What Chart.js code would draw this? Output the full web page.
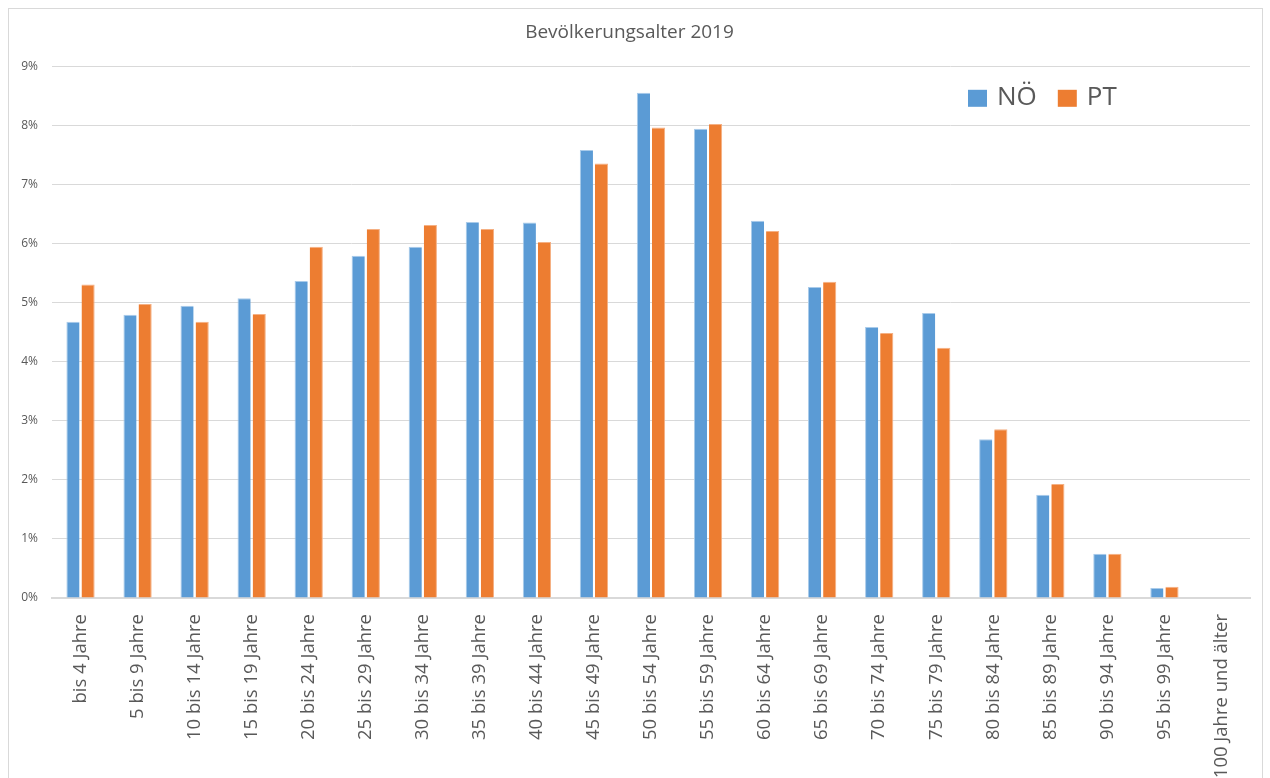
<!DOCTYPE html>
<html>
<head>
<meta charset="utf-8">
<script src="https://cdn.jsdelivr.net/npm/chart.js@4/dist/chart.umd.min.js"></script>
<style>
    body { margin: 0; background: #fff; overflow: hidden; }
    #frame {
        position: absolute; left: 8px; top: 8px;
        width: 1253px; height: 790px;
        border: 1px solid #d9d9d9;
    }
    #frame canvas { display: block; }
</style>
</head>
<body>
<div id="frame"><canvas id="myChart" width="1253" height="769"></canvas></div>
<script>
"use strict"

const ageGroups = [
    "bis 4 Jahre", "5 bis 9 Jahre", "10 bis 14 Jahre", "15 bis 19 Jahre", "20 bis 24 Jahre",
    "25 bis 29 Jahre", "30 bis 34 Jahre", "35 bis 39 Jahre", "40 bis 44 Jahre", "45 bis 49 Jahre",
    "50 bis 54 Jahre", "55 bis 59 Jahre", "60 bis 64 Jahre", "65 bis 69 Jahre", "70 bis 74 Jahre",
    "75 bis 79 Jahre", "80 bis 84 Jahre", "85 bis 89 Jahre", "90 bis 94 Jahre", "95 bis 99 Jahre",
    "100 Jahre und älter"
];
const noeValues = [4.68, 4.80, 4.95, 5.08, 5.37, 5.80, 5.95, 6.37, 6.36, 7.59, 8.56, 7.95, 6.39, 5.27, 4.59, 4.83, 2.69, 1.75, 0.75, 0.17, 0.01];
const ptValues = [5.31, 4.98, 4.68, 4.81, 5.95, 6.25, 6.32, 6.25, 6.03, 7.36, 7.97, 8.03, 6.22, 5.36, 4.49, 4.24, 2.86, 1.93, 0.75, 0.19, 0.01];
const yTicks = [0, 1, 2, 3, 4, 5, 6, 7, 8, 9];

const textColor = "#595959";
const gridColor = "#d9d9d9";

// legend drawn inside the plot, top right (like the Excel original)
const innerLegend = {
    id: "innerLegend",
    afterDraw(chart) {
        const c = chart.ctx;
        const area = chart.chartArea;
        let x = area.right - 282;
        const y = area.top + 23;
        c.save();
        c.font = "26px 'Open Sans'";
        c.textBaseline = "middle";
        chart.data.datasets.forEach((ds) => {
            c.fillStyle = ds.backgroundColor;
            c.fillRect(x, y, 19, 17);
            x += 19 + 10;
            c.fillStyle = textColor;
            c.fillText(ds.label, x, y + 8);
            x += c.measureText(ds.label).width + 21;
        });
        c.restore();
    }
};

const ctx = document.getElementById("myChart").getContext("2d");

new Chart(ctx, {
    type: "bar",
    data: {
        labels: ageGroups,
        datasets: [{
            label: "NÖ",
            data: noeValues,
            backgroundColor: "#5b9bd5",
            borderColor: "#a9cbea",
            borderWidth: { top: 1, left: 1, right: 0, bottom: 0 },
            categoryPercentage: 0.53,
            barPercentage: 0.87
        }, {
            label: "PT",
            data: ptValues,
            backgroundColor: "#ed7d31",
            borderColor: "#f5b083",
            borderWidth: { top: 1, left: 0, right: 1, bottom: 0 },
            categoryPercentage: 0.53,
            barPercentage: 0.87
        }]
    },
    options: {
        responsive: false,
        animation: false,
        layout: {
            padding: { left: 0, right: 12, top: 0, bottom: 0 }
        },
        scales: {
            y: {
                min: 0,
                max: 9,
                afterBuildTicks: (scale) => {
                    scale.ticks = yTicks.map(v => ({ value: v }));
                },
                afterFit: (scale) => {
                    scale.width = 43;
                },
                ticks: {
                    color: textColor,
                    font: { family: "Open Sans", size: 12 },
                    padding: 14,
                    callback: (v) => v + "%"
                },
                grid: {
                    color: gridColor,
                    lineWidth: 1,
                    drawTicks: false
                },
                border: { display: false }
            },
            x: {
                afterFit: (scale) => {
                    scale.height = 180;
                },
                ticks: {
                    color: textColor,
                    font: { family: "Open Sans", size: 18.5 },
                    minRotation: 90,
                    maxRotation: 90,
                    autoSkip: false,
                    padding: 8
                },
                grid: { display: false },
                border: { color: gridColor, width: 2 }
            }
        },
        plugins: {
            title: {
                display: true,
                text: "Bevölkerungsalter 2019",
                color: textColor,
                font: { family: "Open Sans", size: 19, weight: "normal" },
                padding: { top: 12, bottom: 23 }
            },
            legend: { display: false },
            tooltip: { enabled: false }
        }
    },
    plugins: [innerLegend]
});
</script>
</body>
</html>
